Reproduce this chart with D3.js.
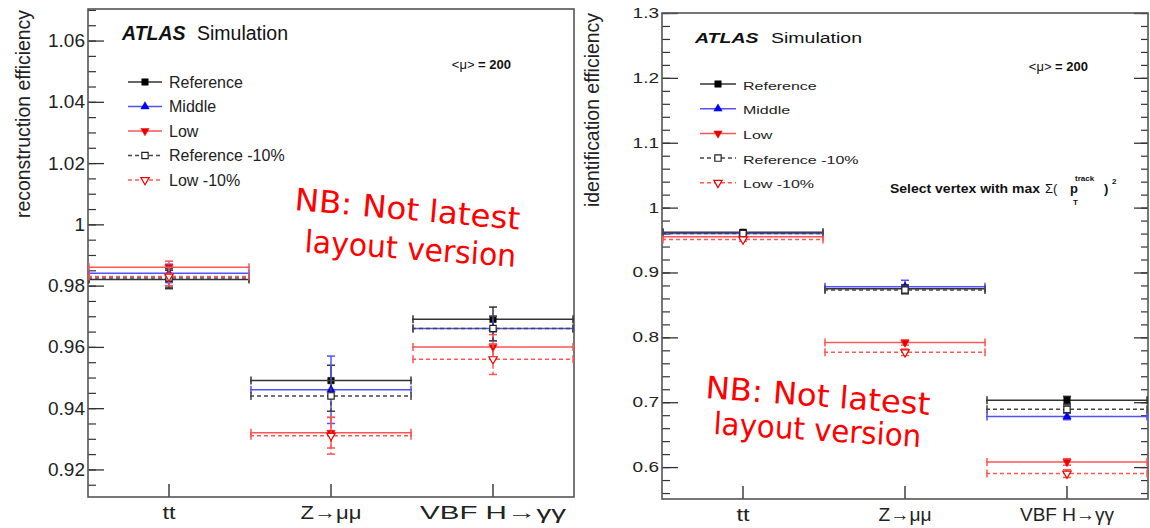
<!DOCTYPE html>
<html>
<head>
<meta charset="utf-8">
<script src="https://cdn.jsdelivr.net/npm/d3@7"></script>
<style>
body { margin: 0; background: #fff; }
svg { display: block; font-family: "Liberation Sans", Arial, Helvetica, sans-serif; }
</style>
</head>
<body>
<svg width="1150" height="528"></svg>
<script>
let width = 1150, height = 528;
let svg = d3.select("svg");

// categories (x bins)
const categories = ["tt", "Z→μμ", "VBF H→γγ"];
const seriesNames = ["Reference", "Middle", "Low", "Reference -10%", "Low -10%"];

// reconstruction efficiency, one row per series (same order as seriesNames)
const recoValues = [
    [0.982, 0.949, 0.969],
    [0.984, 0.946, 0.966],
    [0.986, 0.932, 0.960],
    [0.9825, 0.944, 0.966],
    [0.983, 0.931, 0.956]
];
const recoErrors = [
    [0.003, 0.005, 0.004],
    [0.003, 0.011, 0.004],
    [0.002, 0.005, 0.004],
    [0.003, 0.005, 0.004],
    [0.003, 0.006, 0.005]
];

// identification efficiency
const idValues = [
    [0.962, 0.875, 0.703],
    [0.960, 0.878, 0.678],
    [0.955, 0.792, 0.608],
    [0.960, 0.873, 0.689],
    [0.951, 0.777, 0.590]
];
const idErrors = [
    [0.003, 0.006, 0.006],
    [0.003, 0.010, 0.005],
    [0.003, 0.004, 0.005],
    [0.003, 0.006, 0.005],
    [0.003, 0.005, 0.006]
];

// tick labels
const recoTicks = [0.92, 0.94, 0.96, 0.98, 1, 1.02, 1.04, 1.06];
const idTicks = [0.6, 0.7, 0.8, 0.9, 1, 1.1, 1.2, 1.3];

// marker / line style per series
const seriesStyle = [
    { color: "#000", line: "#333", symbol: d3.symbolSquare, size: 42, rot: 0, filled: true, dash: null },
    { color: "#0000ee", line: "#5050ff", symbol: d3.symbolTriangle, size: 30, rot: 0, filled: true, dash: null },
    { color: "#ee0000", line: "#ff5555", symbol: d3.symbolTriangle, size: 30, rot: 180, filled: true, dash: null },
    { color: "#222", line: "#444", symbol: d3.symbolSquare, size: 40, rot: 0, filled: false, dash: "4,3" },
    { color: "#ee0000", line: "#ff5555", symbol: d3.symbolTriangle, size: 30, rot: 180, filled: false, dash: "4,3" }
];

let fmt = d => String(+d.toFixed(2));

function marker(g, s, cx, cy) {
    g.append("path")
        .attr("d", d3.symbol().type(s.symbol).size(s.size)())
        .attr("transform", "translate(" + cx + "," + cy + ") rotate(" + s.rot + ")")
        .attr("fill", s.filled ? s.color : "#fff")
        .attr("stroke", s.color)
        .attr("stroke-width", s.filled ? 0.5 : 1.2);
}

function drawPanel(p) {
    let g = svg.append("g");
    let x = d3.scaleBand().domain(categories).range([p.x0, p.x1]);
    let y = d3.scaleLinear().domain(p.domain).range([p.y1, p.y0]);
    let bw = x.bandwidth();

    // minor y ticks
    g.append("g")
        .attr("transform", "translate(" + p.x0 + ",0)")
        .call(d3.axisLeft(y).tickValues(p.minor).tickSize(-8).tickFormat(""))
        .call(a => a.select(".domain").remove())
        .selectAll("line").attr("stroke", "#333").attr("stroke-width", 1.2);

    // major y ticks
    let ya = g.append("g")
        .attr("transform", "translate(" + p.x0 + ",0)")
        .call(d3.axisLeft(y).tickValues(p.ticks).tickSize(-16).tickPadding(3).tickFormat(fmt))
        .attr("font-family", null).attr("font-size", null);
    ya.select(".domain").remove();
    ya.selectAll("line").attr("stroke", "#333").attr("stroke-width", 1.3);
    ya.selectAll("text")
        .attr("font-size", 19)
        .attr("fill", "#222")
        .attr("transform", "scale(1," + p.sy + ")");

    if (p.rightTicks) {
        g.append("g")
            .attr("transform", "translate(" + p.x1 + ",0)")
            .call(d3.axisRight(y).tickValues(p.minor).tickSize(-7).tickFormat(""))
            .call(a => a.select(".domain").remove())
            .selectAll("line").attr("stroke", "#333").attr("stroke-width", 1.2);
        g.append("g")
            .attr("transform", "translate(" + p.x1 + ",0)")
            .call(d3.axisRight(y).tickValues(p.ticks).tickSize(-14).tickFormat(""))
            .call(a => a.select(".domain").remove())
            .selectAll("line").attr("stroke", "#333").attr("stroke-width", 1.3);
    }

    // x axis: one tick per bin centre
    let xa = g.append("g")
        .attr("transform", "translate(0," + p.y1 + ")")
        .call(d3.axisBottom(x).tickSize(-13).tickPadding(9))
        .attr("font-family", null).attr("font-size", null);
    xa.select(".domain").remove();
    xa.selectAll("line").attr("stroke", "#222").attr("stroke-width", 1.3);
    xa.selectAll("text")
        .attr("font-size", 19)
        .attr("fill", "#222")
        .attr("textLength", (d, i) => p.xLabelLen[i])
        .attr("lengthAdjust", "spacingAndGlyphs");

    // frame
    g.append("rect")
        .attr("x", p.x0).attr("y", p.y0)
        .attr("width", p.x1 - p.x0).attr("height", p.y1 - p.y0)
        .attr("fill", "none").attr("stroke", "#555").attr("stroke-width", 1.6);

    // y title
    g.append("text")
        .attr("transform", "translate(" + p.titleX + "," + p.y0 + ") rotate(-90)")
        .attr("x", -(p.titleEnd - p.y0))
        .attr("text-anchor", "end")
        .attr("font-size", 19.4)
        .attr("fill", "#222")
        .attr("textLength", p.titleLen)
        .attr("lengthAdjust", "spacingAndGlyphs")
        .text(p.title);

    // data series
    p.values.forEach((row, i) => {
        let s = seriesStyle[i];
        let errs = p.errors[i];
        let sg = g.append("g");
        let pts = row.map((v, j) => ({
            xl: x(categories[j]), xr: x(categories[j]) + bw,
            xc: x(categories[j]) + bw / 2,
            y: y(v), yt: y(v + errs[j]), yb: y(v - errs[j])
        }));
        let st = sel => sel.attr("stroke", s.line).attr("stroke-width", 1.5)
            .attr("stroke-dasharray", s.dash);

        sg.selectAll(".h").data(pts).join("line").attr("class", "h")
            .attr("x1", d => d.xl).attr("x2", d => d.xr)
            .attr("y1", d => d.y).attr("y2", d => d.y).call(st);
        sg.selectAll(".cl").data(pts).join("line").attr("class", "cl")
            .attr("x1", d => d.xl + 1).attr("x2", d => d.xl + 1)
            .attr("y1", d => d.y - 4).attr("y2", d => d.y + 4).call(st).attr("stroke-dasharray", null);
        sg.selectAll(".cr").data(pts).join("line").attr("class", "cr")
            .attr("x1", d => d.xr - 1).attr("x2", d => d.xr - 1)
            .attr("y1", d => d.y - 4).attr("y2", d => d.y + 4).call(st).attr("stroke-dasharray", null);
        sg.selectAll(".v").data(pts).join("line").attr("class", "v")
            .attr("x1", d => d.xc).attr("x2", d => d.xc)
            .attr("y1", d => d.yt).attr("y2", d => d.yb).call(st);
        sg.selectAll(".ct").data(pts.flatMap(d => [[d.xc, d.yt], [d.xc, d.yb]])).join("line").attr("class", "ct")
            .attr("x1", d => d[0] - 4).attr("x2", d => d[0] + 4)
            .attr("y1", d => d[1]).attr("y2", d => d[1]).call(st).attr("stroke-dasharray", null);
        pts.forEach(d => marker(sg, s, d.xc, d.y));
    });

    // legend
    let lg = g.append("g");
    seriesNames.forEach((name, i) => {
        let s = seriesStyle[i];
        let cy = p.legY + i * p.legStep;
        lg.append("line")
            .attr("x1", p.legX0).attr("x2", p.legX1)
            .attr("y1", cy).attr("y2", cy)
            .attr("stroke", s.line).attr("stroke-width", 1.5)
            .attr("stroke-dasharray", s.dash);
        marker(lg, s, p.legM, cy);
        lg.append("text")
            .attr("transform", "translate(" + p.legT + "," + (cy + 5.5) + ") scale(1," + p.sy + ")")
            .attr("font-size", 16)
            .attr("fill", "#222")
            .text(name);
    });

    // ATLAS label
    let at = g.append("g").attr("transform", "translate(" + p.atlasX + "," + p.atlasY + ") scale(1," + p.sy + ")");
    at.append("text").attr("font-size", 19.5).attr("font-weight", "bold").attr("font-style", "italic")
        .attr("fill", "#111").text("ATLAS");
    at.append("text").attr("x", p.simDx).attr("font-size", 19.5).attr("fill", "#111").text("Simulation");

    // pile-up label
    let mu = g.append("text")
        .attr("x", p.muX).attr("y", p.muY)
        .attr("text-anchor", "end")
        .attr("font-size", 13).attr("font-weight", "bold").attr("fill", "#111");
    mu.append("tspan").attr("font-weight", "normal").text("<μ>");
    mu.append("tspan").text(" = 200");

    // NB stamp
    p.nb.forEach(t => {
        g.append("text")
            .attr("transform", "translate(" + t.x + "," + t.y + ") rotate(" + t.r + ")")
            .attr("font-family", "'Comic Sans MS', 'DejaVu Sans', sans-serif")
            .attr("font-size", 31)
            .attr("fill", "#ff0000")
            .attr("textLength", t.len)
            .attr("lengthAdjust", "spacingAndGlyphs")
            .text(t.text);
    });

    return g;
}

drawPanel({
    x0: 88, x1: 574, y0: 9, y1: 497,
    domain: [0.911, 1.0703],
    ticks: recoTicks,
    minor: d3.range(0.915, 1.07, 0.005),
    rightTicks: false,
    sy: 1,
    xLabelLen: [13, 61, 146],
    title: "reconstruction efficiency", titleX: 30, titleEnd: 10, titleLen: 208,
    values: recoValues, errors: recoErrors,
    legY: 82, legStep: 24.5, legX0: 128, legX1: 162, legM: 145, legT: 169,
    atlasX: 122, atlasY: 40, simDx: 75,
    muX: 511, muY: 69,
    nb: [
        { text: "NB: Not latest", x: 294, y: 210, r: 5, len: 226 },
        { text: "layout version", x: 304, y: 252, r: 4, len: 212 }
    ]
});

let right = drawPanel({
    x0: 662, x1: 1148, y0: 13, y1: 499,
    domain: [0.5508, 1.3],
    ticks: idTicks,
    minor: d3.range(0.56, 1.3001, 0.02),
    rightTicks: true,
    sy: 0.74,
    xLabelLen: [13, 53, 94],
    title: "identification efficiency", titleX: 599, titleEnd: 13, titleLen: 194,
    values: idValues, errors: idErrors,
    legY: 84, legStep: 24.7, legX0: 700, legX1: 736, legM: 718, legT: 743,
    atlasX: 695, atlasY: 43, simDx: 76,
    muX: 1088, muY: 71,
    nb: [
        { text: "NB: Not latest", x: 705, y: 398, r: 4.3, len: 225 },
        { text: "layout version", x: 713, y: 434, r: 3.6, len: 208 }
    ]
});

// vertex selection note (right panel)
let note = right.append("g").attr("font-size", 13).attr("font-weight", "bold").attr("fill", "#111");
note.append("text").attr("x", 890).attr("y", 193).attr("textLength", 150).attr("lengthAdjust", "spacingAndGlyphs")
    .text("Select vertex with max");
note.append("text").attr("x", 1045).attr("y", 193).attr("font-weight", "normal").text("Σ(");
note.append("text").attr("x", 1070).attr("y", 193).text("p");
note.append("text").attr("x", 1073).attr("y", 205).attr("font-size", 8).text("T");
note.append("text").attr("x", 1075).attr("y", 181).attr("font-size", 8).text("track");
note.append("text").attr("x", 1104).attr("y", 193).text(")");
note.append("text").attr("x", 1112).attr("y", 184).attr("font-size", 8).text("2");
</script>
</body>
</html>
